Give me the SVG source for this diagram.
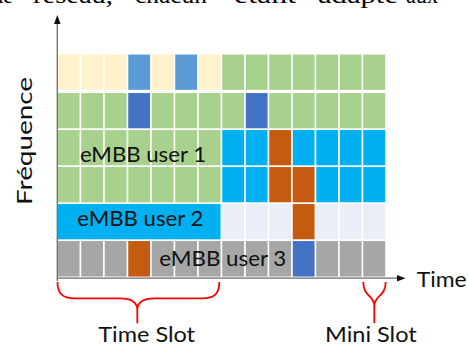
<svg xmlns="http://www.w3.org/2000/svg" width="468" height="345" viewBox="0 0 468 345">
<defs>
<style>
rect{stroke:#fff;stroke-width:1.5}
.p{fill:#FFF2CC}.lb{fill:#5B9BD5}.g{fill:#A9D18E}.db{fill:#4472C4}.cy{fill:#00B0F0}.o{fill:#C55A11}.lg{fill:#EAEEF7}.gr{fill:#A6A6A6}
.lbl{font-family:Lato,"Liberation Sans",sans-serif;font-size:21.5px;fill:#111}
.top{font-family:"Liberation Serif",serif;font-size:24px;fill:#000}
.ax{stroke:#6b6b6b;stroke-width:1.3;fill:none}
.br{stroke:#FF0000;stroke-width:1.8;fill:none}
</style>
</defs>
<rect width="468" height="345" fill="#fff" stroke="none"/>
<g id="header-text">
<text class="top" x="-8" y="2.8" textLength="21" lengthAdjust="spacingAndGlyphs">de</text>
<text class="top" x="33" y="2.8" textLength="80" lengthAdjust="spacingAndGlyphs">réseau,</text>
<text class="top" x="135" y="2.8" textLength="72" lengthAdjust="spacingAndGlyphs">chacun</text>
<text class="top" x="234" y="2.8" textLength="62" lengthAdjust="spacingAndGlyphs">étant</text>
<text class="top" x="318" y="2.8" textLength="80" lengthAdjust="spacingAndGlyphs">adapté</text>
<text class="top" x="406" y="2.8" textLength="32" lengthAdjust="spacingAndGlyphs">aux</text>
</g>
<g id="row1">
<rect class="p" x="57" y="53.8" width="23.5" height="36.8"/><rect class="p" x="80.5" y="53.8" width="23.5" height="36.8"/><rect class="p" x="104" y="53.8" width="23.5" height="36.8"/><rect class="lb" x="127.5" y="53.8" width="23.5" height="36.8"/><rect class="p" x="151" y="53.8" width="23.5" height="36.8"/><rect class="lb" x="174.5" y="53.8" width="23.5" height="36.8"/><rect class="p" x="198" y="53.8" width="23.5" height="36.8"/>
<rect class="g" x="221.5" y="53.8" width="23.5" height="36.8"/><rect class="g" x="245" y="53.8" width="23.5" height="36.8"/><rect class="g" x="268.5" y="53.8" width="23.5" height="36.8"/><rect class="g" x="292" y="53.8" width="23.5" height="36.8"/><rect class="g" x="315.5" y="53.8" width="23.5" height="36.8"/><rect class="g" x="339" y="53.8" width="23.5" height="36.8"/><rect class="g" x="362.5" y="53.8" width="23.5" height="36.8"/>
</g>
<g id="row2">
<rect class="g" x="57" y="92.3" width="23.5" height="37"/><rect class="g" x="80.5" y="92.3" width="23.5" height="37"/><rect class="g" x="104" y="92.3" width="23.5" height="37"/><rect class="db" x="127.5" y="92.3" width="23.5" height="37"/><rect class="g" x="151" y="92.3" width="23.5" height="37"/><rect class="g" x="174.5" y="92.3" width="23.5" height="37"/><rect class="g" x="198" y="92.3" width="23.5" height="37"/>
<rect class="g" x="221.5" y="92.3" width="23.5" height="37"/><rect class="db" x="245" y="92.3" width="23.5" height="37"/><rect class="g" x="268.5" y="92.3" width="23.5" height="37"/><rect class="g" x="292" y="92.3" width="23.5" height="37"/><rect class="g" x="315.5" y="92.3" width="23.5" height="37"/><rect class="g" x="339" y="92.3" width="23.5" height="37"/><rect class="g" x="362.5" y="92.3" width="23.5" height="37"/>
</g>
<g id="row3">
<rect class="g" x="57" y="129.3" width="23.5" height="37"/><rect class="g" x="80.5" y="129.3" width="23.5" height="37"/><rect class="g" x="104" y="129.3" width="23.5" height="37"/><rect class="g" x="127.5" y="129.3" width="23.5" height="37"/><rect class="g" x="151" y="129.3" width="23.5" height="37"/><rect class="g" x="174.5" y="129.3" width="23.5" height="37"/><rect class="g" x="198" y="129.3" width="23.5" height="37"/>
<rect class="cy" x="221.5" y="129.3" width="23.5" height="37"/><rect class="cy" x="245" y="129.3" width="23.5" height="37"/><rect class="o" x="268.5" y="129.3" width="23.5" height="37"/><rect class="cy" x="292" y="129.3" width="23.5" height="37"/><rect class="cy" x="315.5" y="129.3" width="23.5" height="37"/><rect class="cy" x="339" y="129.3" width="23.5" height="37"/><rect class="cy" x="362.5" y="129.3" width="23.5" height="37"/>
</g>
<g id="row4">
<rect class="g" x="57" y="166.3" width="23.5" height="37"/><rect class="g" x="80.5" y="166.3" width="23.5" height="37"/><rect class="g" x="104" y="166.3" width="23.5" height="37"/><rect class="g" x="127.5" y="166.3" width="23.5" height="37"/><rect class="g" x="151" y="166.3" width="23.5" height="37"/><rect class="g" x="174.5" y="166.3" width="23.5" height="37"/><rect class="g" x="198" y="166.3" width="23.5" height="37"/>
<rect class="cy" x="221.5" y="166.3" width="23.5" height="37"/><rect class="cy" x="245" y="166.3" width="23.5" height="37"/><rect class="o" x="268.5" y="166.3" width="23.5" height="37"/><rect class="o" x="292" y="166.3" width="23.5" height="37"/><rect class="cy" x="315.5" y="166.3" width="23.5" height="37"/><rect class="cy" x="339" y="166.3" width="23.5" height="37"/><rect class="cy" x="362.5" y="166.3" width="23.5" height="37"/>
</g>
<g id="row5">
<rect class="cy" x="57" y="203.3" width="164.5" height="37"/>
<rect class="lg" x="221.5" y="203.3" width="23.5" height="37"/><rect class="lg" x="245" y="203.3" width="23.5" height="37"/><rect class="lg" x="268.5" y="203.3" width="23.5" height="37"/><rect class="o" x="292" y="203.3" width="23.5" height="37"/><rect class="lg" x="315.5" y="203.3" width="23.5" height="37"/><rect class="lg" x="339" y="203.3" width="23.5" height="37"/><rect class="lg" x="362.5" y="203.3" width="23.5" height="37"/>
</g>
<g id="row6">
<rect class="gr" x="57" y="240.3" width="23.5" height="37"/><rect class="gr" x="80.5" y="240.3" width="23.5" height="37"/><rect class="gr" x="104" y="240.3" width="23.5" height="37"/><rect class="o" x="127.5" y="240.3" width="23.5" height="37"/><rect class="gr" x="151" y="240.3" width="23.5" height="37"/><rect class="gr" x="174.5" y="240.3" width="23.5" height="37"/><rect class="gr" x="198" y="240.3" width="23.5" height="37"/>
<rect class="gr" x="221.5" y="240.3" width="23.5" height="37"/><rect class="gr" x="245" y="240.3" width="23.5" height="37"/><rect class="gr" x="268.5" y="240.3" width="23.5" height="37"/><rect class="db" x="292" y="240.3" width="23.5" height="37"/><rect class="gr" x="315.5" y="240.3" width="23.5" height="37"/><rect class="gr" x="339" y="240.3" width="23.5" height="37"/><rect class="gr" x="362.5" y="240.3" width="23.5" height="37"/>
</g>
<g id="user1"><text class="lbl" x="80" y="162" textLength="126" lengthAdjust="spacingAndGlyphs">eMBB user 1</text></g>
<g id="user2"><text class="lbl" x="77.3" y="226" textLength="126" lengthAdjust="spacingAndGlyphs">eMBB user 2</text></g>
<g id="user3"><text class="lbl" x="159.3" y="265.5" textLength="127" lengthAdjust="spacingAndGlyphs">eMBB user 3</text></g>
<g id="connectors">
<line class="ax" x1="57.3" y1="281" x2="57.3" y2="23"/>
<polygon points="57.3,15 54,24 60.6,24" fill="#111"/>
<line class="ax" x1="57" y1="278.2" x2="398" y2="278.2"/>
<polygon points="405.5,278.2 397,275 397,281.4" fill="#111"/>
<path class="br" d="M57.5,282 C57.5,293 62,298.3 75,298.3 L120,298.3 C132,298.3 137.3,302 137.3,310 L137.3,323.3 M137.3,310 C137.3,302 142.6,298.3 154.6,298.3 L202,298.3 C215,298.3 219.3,293 219.3,282"/>
<path class="br" d="M363.3,282 C363.3,297 374.3,295 374.3,306 L374.3,323.3 M385.7,282 C385.7,297 374.3,295 374.3,306"/>
</g>
<g id="axis-y-label"><text class="lbl" transform="translate(31.5,205) rotate(-90)" x="0" y="0" textLength="128" lengthAdjust="spacingAndGlyphs">Fréquence</text></g>
<g id="axis-x-label"><text class="lbl" x="416.7" y="286.7" textLength="50" lengthAdjust="spacingAndGlyphs">Time</text></g>
<g id="time-slot"><text class="lbl" x="98.3" y="342" textLength="96.7" lengthAdjust="spacingAndGlyphs">Time Slot</text></g>
<g id="mini-slot"><text class="lbl" x="325" y="342" textLength="91.7" lengthAdjust="spacingAndGlyphs">Mini Slot</text></g>
</svg>
